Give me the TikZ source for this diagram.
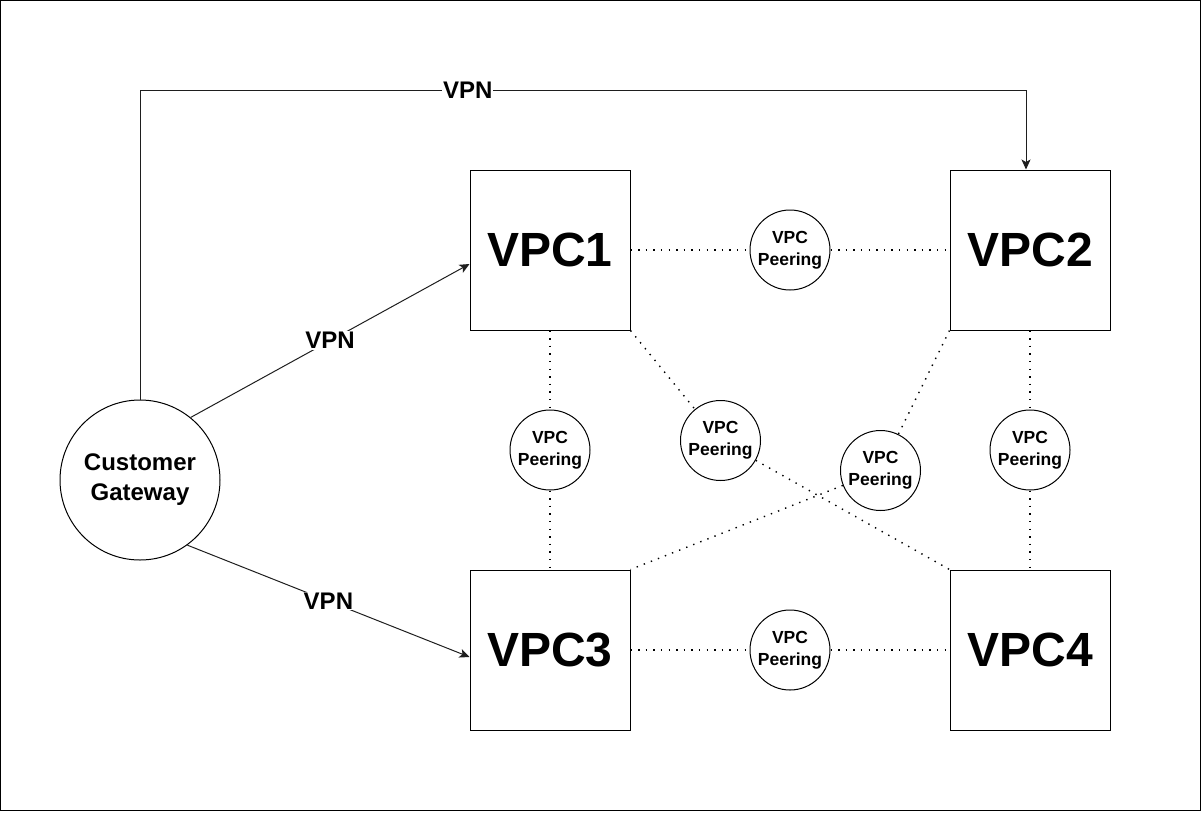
\documentclass[tikz,border=0pt]{standalone}
\usepackage{fontspec}
\setmainfont{Liberation Sans}
\usepackage{tikz}
\usetikzlibrary{arrows.meta,shapes,positioning}
\usepackage{xcolor}
\definecolor{vpnline}{RGB}{30,30,30}
\tikzstyle{vpcbox} = [draw, line width=1pt, rectangle, minimum size=160pt, inner sep=0pt, font=\fontsize{48}{56}\selectfont\bfseries]
\tikzstyle{peerbox} = [draw, line width=1pt, circle, minimum size=80pt, inner sep=0pt, align=center, font=\fontsize{17.5}{22}\selectfont\bfseries]
\tikzstyle{gwbox} = [draw, line width=1pt, circle, minimum size=160pt, inner sep=0pt, align=center, font=\fontsize{24}{30}\selectfont\bfseries]
\tikzstyle{vpn} = [line width=1pt, color=vpnline, ->, >={Stealth[length=10pt,width=9pt,inset=2.5pt]}]
\tikzstyle{vpnlbl} = [fill=white, inner sep=1pt, text=black, font=\fontsize{24}{28}\selectfont\bfseries]
\tikzstyle{peering} = [line width=1.4pt, dash pattern=on 1.4pt off 6.2pt]

\begin{document}
\begin{tikzpicture}[x=1pt, y=-1pt]
\useasboundingbox (0,0) rectangle (1202,812);
\draw[line width=1pt] (0.5,0.5) rectangle (1200.5,810.5);

% Gateway
\node[gwbox] (gw) at (140,480) {Customer\\Gateway};

% VPCs
\node[vpcbox] (vpc1) at (550,250) {VPC1};
\node[vpcbox] (vpc2) at (1030,250) {VPC2};
\node[vpcbox] (vpc3) at (550,650) {VPC3};
\node[vpcbox] (vpc4) at (1030,650) {VPC4};

% Peerings
\node[peerbox] (p12) at (790,250) {VPC\\Peering};
\node[peerbox] (p13) at (550,450) {VPC\\Peering};
\node[peerbox] (p24) at (1030,450) {VPC\\Peering};
\node[peerbox] (p34) at (790,650) {VPC\\Peering};
\node[peerbox] (p14) at (720.5,440.5) {VPC\\Peering};
\node[peerbox] (p23) at (880.5,470.5) {VPC\\Peering};

% Peering links
\draw[peering] (vpc1.east) -- (p12) -- (vpc2.west);
\draw[peering] (vpc1.south) -- (p13) -- (vpc3.north);
\draw[peering] (vpc2.south) -- (p24) -- (vpc4.north);
\draw[peering] (vpc3.east) -- (p34) -- (vpc4.west);
\draw[peering] (vpc1.south east) -- (p14) -- (vpc4.north west);
\draw[peering] (vpc2.south west) -- (p23) -- (vpc3.north east);

% VPN links
\draw[vpn] (gw.51) -- node[vpnlbl] {VPN} ([yshift=-14pt]vpc1.west);
\draw[vpn] (gw.-54) -- node[vpnlbl] {VPN} ([yshift=-7pt]vpc3.west);
\draw[vpn] (gw.north) |- node[vpnlbl, pos=0.685] {VPN} ([xshift=-4pt]vpc2.north |- 0,90) -- ([xshift=-4pt]vpc2.north);
\end{tikzpicture}
\end{document}
